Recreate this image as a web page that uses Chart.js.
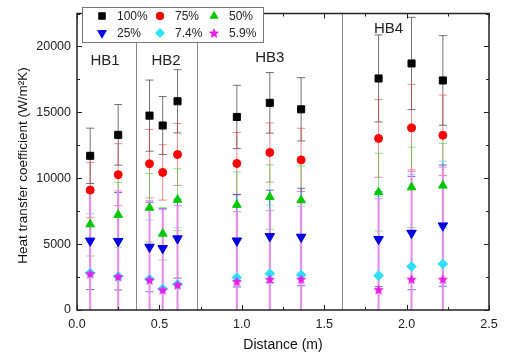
<!DOCTYPE html>
<html>
<head>
<meta charset="utf-8">
<script src="https://cdn.jsdelivr.net/npm/chart.js@4.4.1/dist/chart.umd.min.js"></script>
<style>
  html, body { margin: 0; padding: 0; background: #fff; }
  #contenedor { width: 505px; height: 358px; }
</style>
</head>
<body>
<div id="contenedor"><canvas id="grafica"></canvas></div>
<script>
// posiciones (m)
const distancias = [0.08, 0.25, 0.44, 0.52, 0.61, 0.97, 1.17, 1.36, 1.83, 2.03, 2.22];

// coeficiente de transferencia de calor (W/m2K) y sus barras de error
const serie100 = [11700, 13290, 14750, 14000, 15840, 14650, 15720, 15230, 17570, 18710, 17420];
const error100 = [2100, 2300, 2700, 2200, 2400, 2400, 2300, 2400, 3300, 3500, 3400];
const serie75 = [9100, 10270, 11100, 10440, 11800, 11120, 11950, 11390, 13020, 13820, 13260];
const error75 = [2100, 2350, 2600, 2100, 2350, 2350, 2250, 2400, 2950, 3300, 3050];
const serie50 = [6500, 7220, 7760, 5790, 8370, 7980, 8570, 8330, 8940, 9310, 9440];
const error50 = [2400, 2450, 2600, 2000, 2350, 2500, 2450, 2600, 2950, 3050, 3200];
const serie25 = [5250, 5220, 4780, 4680, 5420, 5250, 5590, 5540, 5370, 5840, 6400];
const error25 = [3700, 3700, 3400, 3000, 3000, 3500, 3500, 3700, 3600, 4300, 4600];
const serie74 = [2810, 2540, 2340, 1600, 1950, 2460, 2760, 2660, 2610, 3300, 3500];
const error74 = [4500, 4500, 4500, 4200, 4300, 5000, 5200, 5200, 6000, 7000, 7800];
const serie59 = [2760, 2540, 2290, 1530, 1920, 2170, 2340, 2340, 1550, 2340, 2340];
const error59 = [6400, 6500, 6000, 6100, 6000, 5300, 5200, 5800, 6900, 8300, 8500];

const etiquetas = ['100%', '75%', '50%', '25%', '7.4%', '5.9%'];

// separadores de los bancos de tubos
const separadores = [0.357, 0.727, 1.61];
const bancos = ['HB1', 'HB2', 'HB3', 'HB4'];
const posBancos = [[0.17, 18900], [0.54, 18900], [1.17, 19100], [1.89, 21300]];

const ticksY = [0, 5000, 10000, 15000, 20000];
const ticksX = [0.0, 0.5, 1.0, 1.5, 2.0, 2.5];

function dibujarEstrella(g, cx, cy, r, color) {
    g.beginPath();
    for (let i = 0; i < 10; i++) {
        const rr = i % 2 === 0 ? r : r * 0.45;
        const ang = -Math.PI / 2 + i * Math.PI / 5;
        const px = cx + rr * Math.cos(ang);
        const py = cy + rr * Math.sin(ang);
        if (i === 0) g.moveTo(px, py); else g.lineTo(px, py);
    }
    g.closePath();
    g.fillStyle = color;
    g.fill();
}

function crearEstrella(r, color) {
    const c = document.createElement('canvas');
    const s = Math.ceil(r * 2 + 2);
    c.width = s;
    c.height = s;
    dibujarEstrella(c.getContext('2d'), s / 2, s / 2 + 0.5, r, color);
    return c;
}

const estrella = crearEstrella(5.5, '#e81ee8');

function puntos(valores) {
    return distancias.map((d, i) => ({ x: d, y: valores[i] }));
}

const datasets = [
    { label: etiquetas[0], data: puntos(serie100), errores: error100, colorError: 'rgba(70,70,70,0.75)', anchoError: 1,
      pointStyle: 'rect', pointRadius: 5, backgroundColor: '#000', borderColor: '#000', order: 6 },
    { label: etiquetas[1], data: puntos(serie75), errores: error75, colorError: 'rgba(230,60,60,0.6)', anchoError: 1,
      pointStyle: 'circle', pointRadius: 4, backgroundColor: '#ff0000', borderColor: '#ff0000', order: 5 },
    { label: etiquetas[2], data: puntos(serie50), errores: error50, colorError: 'rgba(60,210,60,0.6)', anchoError: 1,
      pointStyle: 'triangle', pointRadius: 5, backgroundColor: '#00c800', borderColor: '#00c800', order: 4 },
    { label: etiquetas[3], data: puntos(serie25), errores: error25, colorError: 'rgba(40,40,220,0.7)', anchoError: 1,
      pointStyle: 'triangle', rotation: 180, pointRadius: 5.5, backgroundColor: '#0000e0', borderColor: '#0000e0', order: 3 },
    { label: etiquetas[4], data: puntos(serie74), errores: error74, colorError: 'rgba(60,200,255,0.55)', anchoError: 1,
      pointStyle: 'rectRot', pointRadius: 4.8, backgroundColor: '#2ee0ff', borderColor: '#2ee0ff', order: 2 },
    { label: etiquetas[5], data: puntos(serie59), errores: error59, colorError: '#e88ce8', anchoError: 2,
      pointStyle: estrella, pointRadius: 5, backgroundColor: '#e81ee8', borderColor: '#e81ee8', order: 1 }
];

// barras de error de todas las series, debajo de los marcadores
const pluginErrores = {
    id: 'errores',
    beforeDatasetsDraw(chart) {
        const { ctx, chartArea: a, scales: { x, y } } = chart;
        ctx.save();
        ctx.beginPath();
        ctx.rect(a.left, a.top, a.right - a.left, a.bottom - a.top);
        ctx.clip();
        chart.data.datasets.forEach(ds => {
            ctx.strokeStyle = ds.colorError;
            ds.data.forEach((p, i) => {
                const px = x.getPixelForValue(p.x);
                const arriba = y.getPixelForValue(p.y + ds.errores[i]);
                const abajo = y.getPixelForValue(p.y - ds.errores[i]);
                ctx.lineWidth = ds.anchoError;
                ctx.beginPath();
                ctx.moveTo(px, arriba);
                ctx.lineTo(px, abajo);
                ctx.stroke();
                ctx.lineWidth = 1;
                ctx.beginPath();
                ctx.moveTo(px - 4, arriba); ctx.lineTo(px + 4, arriba);
                ctx.moveTo(px - 4, abajo); ctx.lineTo(px + 4, abajo);
                ctx.stroke();
            });
        });
        ctx.restore();
    }
};

const pluginMarco = {
    id: 'marco',
    beforeDatasetsDraw(chart) {
        const { ctx, chartArea: a, scales: { x } } = chart;
        ctx.save();
        ctx.strokeStyle = '#8a8a8a';
        ctx.lineWidth = 1;
        separadores.forEach(s => {
            const px = Math.round(x.getPixelForValue(s)) + 0.5;
            ctx.beginPath();
            ctx.moveTo(px, a.top);
            ctx.lineTo(px, a.bottom);
            ctx.stroke();
        });
        ctx.restore();
    },
    afterDraw(chart) {
        const { ctx, chartArea: a, scales: { x, y } } = chart;
        ctx.save();
        // marcas hacia adentro
        ctx.strokeStyle = '#222';
        ctx.lineWidth = 1;
        ctx.beginPath();
        for (let k = 0; k <= 10; k++) {
            const px = Math.round(x.getPixelForValue(k * 0.25)) + 0.5;
            const largo = k % 2 === 0 ? 5 : 3;
            ctx.moveTo(px, a.bottom); ctx.lineTo(px, a.bottom - largo);
            ctx.moveTo(px, a.top); ctx.lineTo(px, a.top + largo);
        }
        for (let k = 0; k <= 9; k++) {
            const py = Math.round(y.getPixelForValue(k * 2500)) + 0.5;
            const largo = k % 2 === 0 ? 5 : 3;
            ctx.moveTo(a.left, py); ctx.lineTo(a.left + largo, py);
            ctx.moveTo(a.right, py); ctx.lineTo(a.right - largo, py);
        }
        ctx.stroke();
        ctx.lineWidth = 1.5;
        ctx.strokeRect(a.left, a.top, a.right - a.left, a.bottom - a.top);

        // nombres de los bancos
        ctx.fillStyle = '#222';
        ctx.font = '15px "Liberation Sans", Arial, sans-serif';
        ctx.textAlign = 'center';
        ctx.textBaseline = 'middle';
        bancos.forEach((b, i) => {
            ctx.fillText(b, x.getPixelForValue(posBancos[i][0]), y.getPixelForValue(posBancos[i][1]));
        });

        // leyenda
        ctx.fillStyle = '#fff';
        ctx.fillRect(82, 7, 181, 35);
        ctx.strokeStyle = '#777';
        ctx.lineWidth = 1;
        ctx.strokeRect(82.5, 7.5, 181, 35);
        const columnas = [102, 160, 214];
        const filas = [16, 33];
        ctx.font = '12px "Liberation Sans", Arial, sans-serif';
        ctx.textAlign = 'left';
        datasets.forEach((ds, i) => {
            const cx = columnas[i % 3];
            const cy = filas[Math.floor(i / 3)];
            ctx.fillStyle = ds.backgroundColor;
            if (ds.pointStyle === estrella) {
                dibujarEstrella(ctx, cx, cy + 0.5, 5.5, ds.backgroundColor);
            } else {
                Chart.helpers.drawPoint(ctx, {
                    pointStyle: ds.pointStyle, radius: ds.pointRadius, rotation: ds.rotation || 0, borderWidth: 0
                }, cx, cy);
                ctx.fill();
            }
            ctx.fillStyle = '#222';
            ctx.fillText(ds.label, cx + 15, cy + 0.5);
        });
        ctx.restore();
    }
};

const ctx = document.getElementById('grafica').getContext('2d');
const grafica = new Chart(ctx, {
    type: 'scatter',
    data: { datasets: datasets },
    options: {
        animation: false,
        responsive: true,
        maintainAspectRatio: false,
        layout: { padding: { top: 5, right: 16, left: 0, bottom: 0 } },
        plugins: {
            legend: { display: false },
            tooltip: { enabled: false }
        },
        scales: {
            x: {
                type: 'linear',
                min: 0,
                max: 2.5,
                afterFit: (scale) => { scale.height = 48; },
                afterBuildTicks: (scale) => { scale.ticks = ticksX.map(v => ({ value: v })); },
                grid: { display: false, drawTicks: false },
                border: { display: false },
                ticks: {
                    padding: 7,
                    color: '#222',
                    font: { family: '"Liberation Sans", Arial, sans-serif', size: 12.5 },
                    callback: (v) => Number(v).toFixed(1)
                },
                title: {
                    display: true,
                    text: 'Distance (m)',
                    color: '#111',
                    font: { family: '"Liberation Sans", Arial, sans-serif', size: 14 },
                    padding: { top: 0, bottom: 4 }
                }
            },
            y: {
                type: 'linear',
                min: 0,
                max: 22500,
                afterFit: (scale) => { scale.width = 77; },
                afterBuildTicks: (scale) => { scale.ticks = ticksY.map(v => ({ value: v })); },
                grid: { display: false, drawTicks: false },
                border: { display: false },
                ticks: {
                    padding: 6,
                    color: '#222',
                    font: { family: '"Liberation Sans", Arial, sans-serif', size: 12.5 },
                    callback: (v) => String(v)
                },
                title: {
                    display: true,
                    text: 'Heat transfer coefficient (W/m\u00b2K)  ',
                    color: '#111',
                    font: { family: '"Liberation Sans", Arial, sans-serif', size: 13.5 },
                    padding: { top: 15, bottom: 0 }
                }
            }
        }
    },
    plugins: [pluginErrores, pluginMarco]
});
</script>
</body>
</html>
